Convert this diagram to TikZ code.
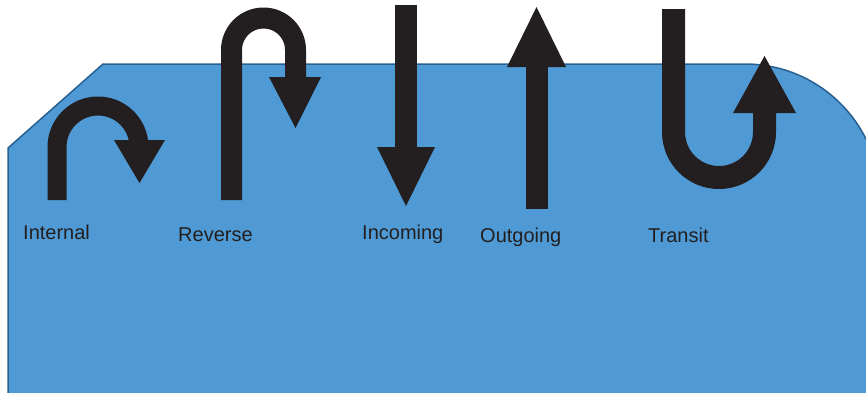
\documentclass[tikz,border=0pt]{standalone}
\usepackage{fontspec}
\setmainfont{Liberation Sans}
\definecolor{panelblue}{RGB}{79,154,212}
\definecolor{paneledge}{RGB}{40,96,145}
\definecolor{arrowblack}{RGB}{35,31,32}
\tikzset{
  panel/.style={fill=panelblue, draw=paneledge, line width=1.5pt},
  stem/.style={draw=arrowblack, line cap=butt, line join=round},
  head/.style={fill=arrowblack},
  lbl/.style={anchor=base west, inner sep=0pt, text=arrowblack, font=\fontsize{20}{24}\selectfont}
}
\begin{document}
\begin{tikzpicture}[x=1pt,y=1pt]
\clip (0,0) rectangle (866,-392);
% panel
\path[panel] (8,-420) -- (8,-148) -- (103,-64) -- (745,-64)
  arc[start angle=90, end angle=0, radius=135] -- (880,-420) -- cycle;
% Internal
\draw[stem, line width=19pt] (57,-200) -- (57,-147) arc[start angle=180, end angle=0, radius=41] -- (139,-145);
\fill[head] (114,-140) -- (165,-140) -- (139.5,-183) -- cycle;
% Reverse
\draw[stem, line width=21pt] (231.5,-200) -- (231.5,-50) arc[start angle=180, end angle=0, radius=32] -- (295.5,-80);
\fill[head] (269,-77) -- (321,-77) -- (295.5,-128) -- cycle;
% Incoming
\draw[stem, line width=22pt] (406,-5) -- (406,-150);
\fill[head] (377,-147) -- (435,-147) -- (406,-206) -- cycle;
% Outgoing
\draw[stem, line width=22pt] (537,-209) -- (537,-64);
\fill[head] (507,-67) -- (566,-67) -- (536.5,-7) -- cycle;
% Transit
\draw[stem, line width=23pt] (673.5,-9) -- (673.5,-132) arc[start angle=180, end angle=360, radius=45.5] -- (764.5,-110);
\fill[head] (733,-113) -- (796,-113) -- (764.5,-56) -- cycle;
% labels
\node[lbl] (internal) at (23,-239) {Internal};
\node[lbl] (reverse) at (178,-241) {Reverse};
\node[lbl] (incoming) at (362,-239) {Incoming};
\node[lbl] (outgoing) at (480,-242) {Outgoing};
\node[lbl] (transit) at (648,-242) {Transit};
\end{tikzpicture}
\end{document}
